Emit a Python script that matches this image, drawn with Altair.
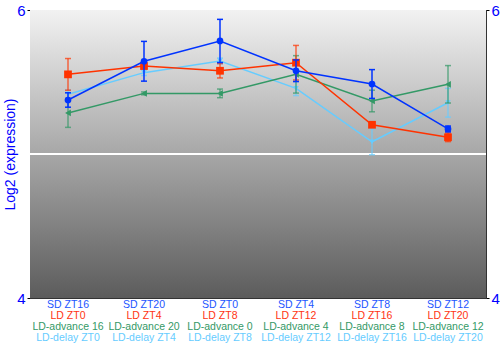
import altair as alt
import pandas as pd

cats = ["SD ZT16", "SD ZT20", "SD ZT0", "SD ZT4", "SD ZT8", "SD ZT12"]
ld_labels = ["LD ZT0", "LD ZT4", "LD ZT8", "LD ZT12", "LD ZT16", "LD ZT20"]
adv_labels = ["LD-advance 16", "LD-advance 20", "LD-advance 0", "LD-advance 4", "LD-advance 8", "LD-advance 12"]
delay_labels = ["LD-delay ZT0", "LD-delay ZT4", "LD-delay ZT8", "LD-delay ZT12", "LD-delay ZT16", "LD-delay ZT20"]

sd_vals = [5.375, 5.644, 5.785, 5.578, 5.486, 5.174]
sd_err = [0.05, 0.138, 0.15, 0.075, 0.1, 0.02]
ld_vals = [5.553, 5.611, 5.578, 5.634, 5.203, 5.116]
ld_err = [0.11, 0.02, 0.05, 0.12, 0.01, 0.03]
adv_vals = [5.285, 5.421, 5.421, 5.553, 5.368, 5.484]
adv_err = [0.1, 0.01, 0.03, 0.13, 0.075, 0.13]
del_vals = [5.415, 5.565, 5.646, 5.456, 5.085, 5.356]
del_err = [0.03, 0.02, 0.02, 0.05, 0.09, 0.1]

W, H = 456, 288

series = [
    ("LD-delay", del_vals, del_err, "#66ccff", "triangle-down", 30, 0.7),
    ("LD-advance", adv_vals, adv_err, "#339966", "triangle-left", 45, 0.7),
    ("LD", ld_vals, ld_err, "#ff3300", "square", 60, 0.7),
    ("SD", sd_vals, sd_err, "#0033ff", "circle", 45, 1.0),
]

xenc = alt.X("cat:N", sort=cats, scale=alt.Scale(domain=cats, paddingInner=0, paddingOuter=0), axis=None)
yscale = alt.Scale(domain=[4, 6], nice=False, zero=False)

grad = alt.Gradient(
    gradient="linear",
    stops=[alt.GradientStop(color="#f2f2f2", offset=0), alt.GradientStop(color="#5c5c5c", offset=1)],
    x1=0, x2=0, y1=0, y2=1,
)
bg = alt.Chart(pd.DataFrame({"a": [0]})).mark_rect(fill=grad).encode(
    x=alt.value(0), x2=alt.value(W), y=alt.value(0), y2=alt.value(H)
)

base_axis = alt.Chart(pd.DataFrame({"y": [5]})).mark_rule(color="white", strokeWidth=2).encode(
    y=alt.Y("y:Q", scale=yscale, axis=alt.Axis(orient="left", values=[4, 5, 6], format="d",
                                                  title="Log2 (expression)",
                                                  labelColor="#0000ff", titleColor="#0000ff", labelFontSize=15,
                                                  titleFontSize=14, titleFontWeight="normal", domain=False,
                                                  tickColor="black", tickSize=3, labelPadding=2,
                                                  titleX=-20, titleY=H / 2, titleAngle=-90,
                                                  titleAlign="center", titleBaseline="middle",
                                                  grid=False, titleFont="Liberation Sans", labelFont="Liberation Sans"))
)
right_axis = alt.Chart(pd.DataFrame({"y": [5]})).mark_rule(color="white", strokeWidth=2).encode(
    y=alt.Y("y:Q", scale=yscale, axis=alt.Axis(orient="right", values=[4, 5, 6], format="d", title=None,
                                                  labelColor="#0000ff", labelFontSize=15, domain=False,
                                                  tickColor="black", tickSize=3, labelPadding=2, grid=False,
                                                  labelFont="Liberation Sans"))
)

layers = [bg, base_axis, right_axis]
for name, vals, errs, color, shape, size, op in series:
    df = pd.DataFrame({"cat": cats, "v": vals, "lo": [v - e for v, e in zip(vals, errs)],
                       "hi": [v + e for v, e in zip(vals, errs)]})
    b = alt.Chart(df)
    layers.append(b.mark_rule(color=color, opacity=op, strokeWidth=1.5).encode(
        x=xenc, y=alt.Y("lo:Q", scale=yscale, axis=None), y2="hi:Q"))
    for f in ["lo", "hi"]:
        layers.append(b.mark_tick(color=color, opacity=op, size=6, thickness=1.5).encode(
            x=xenc, y=alt.Y(f + ":Q", scale=yscale, axis=None)))
    layers.append(b.mark_line(color=color, strokeWidth=1.5).encode(
        x=xenc, y=alt.Y("v:Q", scale=yscale, axis=None)))
    layers.append(b.mark_point(color=color, shape=shape, size=size, filled=True, opacity=1).encode(
        x=xenc, y=alt.Y("v:Q", scale=yscale, axis=None)))

lab_df = pd.DataFrame({"cat": cats, "l1": cats, "l2": ld_labels, "l3": adv_labels, "l4": delay_labels})
for field, color, dy in [("l1", "#2255ff", 7), ("l2", "#ff3311", 18), ("l3", "#339966", 29), ("l4", "#66ccff", 40)]:
    layers.append(alt.Chart(lab_df).mark_text(color=color, fontSize=10.5, font="Liberation Sans", baseline="middle").encode(
        x=xenc, y=alt.value(H + dy), text=f"{field}:N"))

chart = alt.layer(*layers).resolve_axis(y="independent").properties(
    width=W, height=H, autosize=alt.AutoSizeParams(type="none"),
    padding={"left": 30, "top": 10, "right": 14, "bottom": 52},
).configure_view(stroke="#333333", strokeWidth=1)

chart.save("out.html", embed_options={"renderer": "svg", "actions": False})
